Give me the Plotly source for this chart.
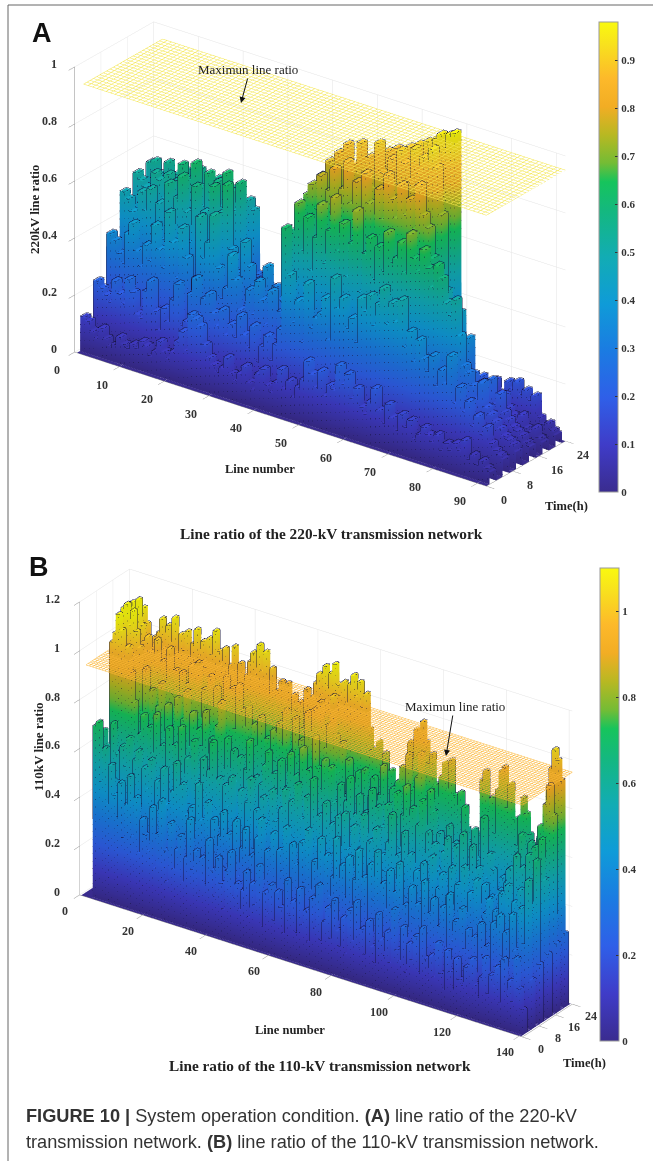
import plotly.graph_objects as go

W, H = 653, 1161
HOURS = [0, 4, 8, 12, 16, 20]

a_t0 = [12,11,8,6,10,7,5,6,9,7,6,8,7,10,9,6,8,12,9,7,10,14,18,12,25,24,22,16,12,10,8,10,14,9,7,10,13,8,6,12,14,9,7,11,16,10,13,8,12,15,22,18,14,20,12,16,15,24,18,22,14,18,12,10,15,20,13,9,16,12,8,14,10,13,7,9,12,10,8,11,6,9,7,10,8,12,6,8,5,7,5,4]
a_t4 = [22,20,18,16,24,20,17,26,22,15,14,24,28,18,12,20,16,24,30,16,18,28,34,22,28,30,24,20,26,18,22,18,26,20,16,24,12,18,22,14,20,26,62,46,30,38,24,45,30,34,36,42,28,50,40,44,34,38,30,46,42,48,38,46,52,40,48,42,50,34,40,30,38,32,28,34,24,30,26,36,20,26,18,22,14,18,12,15,10,8,7,6]
a_t8 = [36,34,30,27,38,42,33,28,36,31,44,36,30,50,40,28,46,36,22,30,52,38,44,54,36,26,30,42,34,24,20,32,24,36,30,22,34,18,28,24,44,58,68,52,64,46,58,70,50,62,74,56,66,48,60,72,44,58,64,50,62,54,68,58,60,66,56,70,62,58,66,60,54,62,58,50,46,52,40,30,28,24,20,26,18,16,14,12,10,9,8,6]
a_t12 = [48,46,42,38,50,44,52,40,48,36,56,46,52,60,48,38,58,44,50,40,60,44,52,62,40,32,26,44,36,30,24,30,38,26,32,28,22,30,20,26,56,68,72,64,76,60,72,80,66,74,84,70,78,66,82,72,60,78,68,84,76,70,82,72,78,68,84,74,70,60,46,38,50,42,34,44,30,36,24,18,22,18,24,16,20,14,12,10,9,8,6,5]
a_t16 = [52,50,48,44,54,52,46,55,50,54,60,52,56,62,54,48,60,52,58,50,62,56,50,60,30,28,24,28,22,20,18,22,16,24,20,14,18,16,12,20,60,72,66,78,72,82,70,86,76,80,88,78,84,74,90,80,72,86,78,90,86,80,92,84,90,82,94,88,72,28,20,16,22,14,18,12,16,20,14,10,14,10,16,12,10,8,11,7,6,8,5,4]
a_t20 = [53,54,50,48,55,48,52,50,54,46,54,56,48,52,50,55,48,53,47,54,52,50,51,48,26,25,24,23,21,18,12,14,10,16,13,9,11,14,8,10,46,62,58,66,74,70,60,78,68,72,80,72,76,84,78,86,74,82,88,80,90,84,92,88,94,96,92,97,98,18,13,10,12,9,14,11,15,16,12,10,17,15,18,14,16,13,15,8,6,7,5,4]

b_t0 = [0,0,0,70,72,48,62,40,56,44,36,50,28,42,54,30,46,24,38,32,26,44,20,34,48,28,16,40,22,30,36,18,28,44,24,32,14,30,20,38,26,16,32,22,12,28,36,18,24,14,22,30,12,26,18,34,10,24,16,28,14,26,20,10,32,18,24,12,30,16,22,10,28,16,34,12,20,26,14,30,18,12,24,10,28,16,32,14,22,12,26,16,10,30,20,14,24,12,34,18,14,28,10,22,16,26,12,30,18,10,20,12,26,14,8,24,16,10,22,14,12,20,8,24,14,10,18,26,12,20,16,24,10,28,14,20,12,30,18,10]
b_t4 = [0,0,0,66,60,52,70,58,48,62,54,66,44,58,62,40,56,48,60,38,52,34,58,44,30,50,62,36,54,42,28,46,36,56,42,26,50,34,44,30,38,48,26,40,30,46,24,36,44,28,34,22,42,50,26,38,30,46,24,40,32,50,26,44,36,22,46,30,52,28,40,24,50,32,44,28,36,52,22,42,30,46,24,38,50,28,40,22,46,32,52,26,40,30,46,22,38,50,28,34,24,42,30,36,22,46,26,34,40,20,30,38,22,44,26,34,18,40,24,32,20,30,16,36,24,28,18,38,22,42,26,36,20,44,30,24,48,34,60,20]
b_t8 = [0,0,0,100,104,112,106,96,100,90,78,56,66,74,52,70,60,76,48,64,56,72,46,66,58,74,50,62,44,70,54,42,64,50,60,72,46,58,38,56,48,60,36,44,56,40,52,62,34,50,40,56,46,30,60,48,36,54,62,42,58,44,66,52,38,62,48,70,44,56,48,62,36,54,44,58,34,60,46,40,56,38,48,62,34,52,44,58,30,48,42,54,66,38,50,44,60,34,52,42,46,36,50,32,44,54,34,42,48,30,40,52,32,46,28,54,36,44,30,50,34,26,38,44,22,40,32,48,30,52,36,46,28,52,40,30,56,44,66,24]
b_t12 = [0,0,0,108,112,114,106,112,104,98,72,90,68,82,60,76,86,64,78,58,70,82,60,74,86,64,78,56,72,66,80,58,70,62,76,86,60,72,54,68,56,66,48,62,74,52,60,44,58,66,72,48,64,56,70,42,60,74,50,66,62,78,56,70,60,84,72,64,76,58,74,60,52,68,46,62,72,50,58,66,44,60,52,70,48,64,56,42,66,52,60,72,50,64,76,56,68,46,62,72,52,60,40,56,46,38,54,60,36,48,58,42,64,36,50,60,40,52,38,46,30,42,34,26,46,36,50,56,40,62,44,58,36,64,50,68,60,72,56,26]
b_t16 = [0,0,0,110,112,108,114,104,98,100,94,88,100,84,92,86,98,80,90,82,90,76,86,94,80,96,74,86,78,92,80,88,72,84,94,78,90,74,92,82,76,84,64,78,70,82,60,74,66,78,66,82,74,88,62,72,86,68,78,72,90,80,92,84,96,86,78,88,100,84,70,82,62,76,68,56,72,62,74,54,64,72,56,66,78,50,62,70,56,74,80,68,86,72,62,78,88,70,60,74,66,50,58,46,54,62,48,56,44,52,72,58,44,64,52,48,70,46,56,50,40,34,48,38,52,28,44,60,68,50,56,66,50,62,74,58,84,92,80,28]
b_t20 = [0,0,0,104,100,108,102,96,92,98,100,106,94,104,98,108,92,102,96,104,94,100,106,96,102,92,104,98,108,100,92,102,84,96,104,90,98,86,94,100,104,96,108,98,106,90,100,84,92,96,88,96,84,92,86,90,80,96,88,94,100,104,96,108,100,106,110,102,98,104,96,104,108,100,106,96,102,88,80,78,84,72,80,66,74,64,70,58,68,76,88,78,94,84,98,90,82,86,74,70,78,84,74,86,72,64,74,66,60,52,46,54,60,82,86,70,76,62,80,88,90,74,84,70,60,72,80,74,66,62,58,66,62,80,88,96,104,100,92,30]

a_rows = [a_t0, a_t4, a_t8, a_t12, a_t16, a_t20]
b_rows = [b_t0, b_t4, b_t8, b_t12, b_t16, b_t20]
MAX_RATIO = 0.95
BAR_START, BAR_END = 1.0, 3.0   # each sampled hour's bar sits inside its 4-hour slot

PARULA = [[0,"#3a2c8f"],[.1,"#3f3cc8"],[.2,"#2f5fe8"],[.3,"#1b7be2"],[.4,"#0f9bd8"],[.5,"#12acb4"],[.6,"#14b87e"],[.66,"#16c45c"],[.7,"#74bc35"],[.76,"#b8b822"],[.82,"#f2ad24"],[.88,"#fdb92a"],[.95,"#f8e01e"],[1,"#f9f90f"]]
FONT = "Liberation Serif"

A_X_TICKS = list(range(0, 91, 10))
B_X_TICKS = list(range(0, 141, 20))
Y_TICKS = [0, 8, 16, 24]
A_Z_TICKS = [0, .2, .4, .6, .8, 1]
B_Z_TICKS = [0, .2, .4, .6, .8, 1, 1.2]


def stairs(rows, eps=0.02):
    n = len(rows[0])
    xs, ys = [0.5], [0]
    for i in range(n):
        xs += [i + .5 + eps, i + 1.5 - eps]
    xs.append(n + .5)
    zz = [[0.0] * len(xs)]
    for j, r in enumerate(rows):
        line = [0.0]
        for v in r:
            line += [v / 100, v / 100]
        line.append(0.0)
        h = HOURS[j]
        ys += [h + BAR_START - .02, h + BAR_START, h + BAR_END, h + BAR_END + .02]
        zz += [[0.0] * len(xs), line, line, [0.0] * len(xs)]
    ys.append(24)
    zz.append([0.0] * len(xs))
    return xs, ys, zz


def edges(rows):
    ex, ey, ez = [], [], []
    for j, r in enumerate(rows):
        y0, y1 = HOURS[j] + BAR_START - .06, HOURS[j] + BAR_END - .06
        for i, v in enumerate(r):
            if v == 0:
                continue
            z = v / 100
            x0, x1 = i + .54, i + 1.54
            ex += [x0, x1, x1, x0, x0, None]
            ey += [y0, y0, y1, y1, y0, None]
            ez += [z + .003] * 5 + [None]
            for px, py in ((x0, y0), (x1, y0), (x1, y1)):
                ex += [px, px, None]
                ey += [py, py, None]
                ez += [0, z, None]
    return ex, ey, ez


def mesh(x0, x1, level):
    ex, ey, ez = [], [], []
    for x in range(x0, x1 + 1):
        ex += [x, x, None]; ey += [0, 24, None]; ez += [level, level, None]
    for y in range(0, 25):
        ex += [x0, x1, None]; ey += [y, y, None]; ez += [level, level, None]
    return ex, ey, ez


fig = go.Figure()


def panel(rows, scene, cmax, cb_ticks, cb_box, mesh_x, mesh_color):
    xs, ys, zz = stairs(rows)
    fig.add_trace(go.Surface(
        x=xs, y=ys, z=zz, scene=scene, colorscale=PARULA, cmin=0, cmax=cmax, hoverinfo="skip",
        lighting=dict(ambient=.9, diffuse=.18, specular=0, roughness=1, fresnel=0),
        colorbar=dict(x=cb_box[0] / W, xanchor="left", y=1 - cb_box[3] / H, yanchor="bottom",
                      len=(cb_box[3] - cb_box[2]) / H, lenmode="fraction", thickness=cb_box[1] - cb_box[0],
                      thicknessmode="pixels", tickvals=cb_ticks, ticks="inside", ticklen=3,
                      tickcolor="#333", outlinecolor="#999", outlinewidth=1, xpad=0, ypad=0,
                      tickfont=dict(family=FONT, size=11, color="#333", weight=700)),
    ))
    ex, ey, ez = edges(rows)
    fig.add_trace(go.Scatter3d(x=ex, y=ey, z=ez, scene=scene, mode="lines", hoverinfo="skip",
                               line=dict(color="#14123a", width=1), opacity=.9, showlegend=False))
    mx, my, mz = mesh(mesh_x[0], mesh_x[1], MAX_RATIO)
    fig.add_trace(go.Scatter3d(x=mx, y=my, z=mz, scene=scene, mode="lines", hoverinfo="skip",
                               line=dict(color=mesh_color, width=1), showlegend=False))


panel(a_rows, "scene", .98, [0, .1, .2, .3, .4, .5, .6, .7, .8, .9], (599, 618, 22, 492), (2, 92), "#f4e54a")
panel(b_rows, "scene2", 1.1, [0, .2, .4, .6, .8, 1], (600, 619, 568, 1041), (2, 141), "#fbb533")


def axis(rng, ticks):
    return dict(range=rng, tickvals=ticks, showbackground=False, gridcolor="#e4e4e4", gridwidth=1,
                showline=True, linecolor="#8a8a8a", linewidth=1, zeroline=False, ticks="outside",
                ticklen=10, tickcolor="#8a8a8a", showspikes=False, title=dict(text=""), showticklabels=False)


def tick_notes(x_ticks, z_ticks, xmax, xshift, zshift, yshift_):
    notes = []
    tf = dict(family=FONT, size=12, color="#333")

    def add(x, y, z, label, dx, dy, anchor="center"):
        notes.append(dict(x=x, y=y, z=z, text=f"<b>{label}</b>", showarrow=False, xshift=dx, yshift=dy,
                          xanchor=anchor, yanchor="middle", font=tf))

    for v in x_ticks:
        add(v, 0, 0, v, *xshift)
    for v in Y_TICKS:
        add(xmax, v, 0, v, *yshift_)
    for v in z_ticks:
        add(0, 0, v, f"{v:g}", *zshift, "right")
    return notes


def scene(cx, cy, hw, hh, xr, xt, zr, zt, ar, eye, notes):
    return dict(domain=dict(x=[(cx - hw) / W, (cx + hw) / W], y=[1 - (cy + hh) / H, 1 - (cy - hh) / H]),
                xaxis=axis(xr, xt), yaxis=axis([0, 24], Y_TICKS), zaxis=axis(zr, zt),
                aspectmode="manual", aspectratio=ar, annotations=notes,
                camera=dict(projection=dict(type="orthographic"), eye=eye, up=dict(x=0, y=0, z=1),
                            center=dict(x=0, y=0, z=0)))


DA, DB = 1.2, 1.2
SA, SB = 1.264, 1.32
fig.update_layout(
    width=W, height=H, margin=dict(l=0, r=0, t=0, b=0), paper_bgcolor="white", showlegend=False,
    scene=scene(319.5, 254, 319, 250, [0, 92], A_X_TICKS, [0, 1], A_Z_TICKS,
                dict(x=1.633 * SA, y=.415 * SA, z=SA), dict(x=.544 * DA, y=-.72 * DA, z=.431 * DA),
                tick_notes(A_X_TICKS, A_Z_TICKS, 92, (-17, -18), (-15, 3), (18, -14))),
    scene2=scene(325.5, 803, 325, 250, [0, 141], B_X_TICKS, [0, 1.2], B_Z_TICKS,
                 dict(x=1.636 * SB, y=.264 * SB, z=SB), dict(x=.508 * DB, y=-.728 * DB, z=.46 * DB),
                 tick_notes(B_X_TICKS, B_Z_TICKS, 141, (-14, -16), (-17, 3), (19, -12))),
)


def txt(x, y, s, size=13, bold=True, family=FONT, angle=0, anchor="center", color="#222"):
    fig.add_annotation(xref="paper", yref="paper", x=x / W, y=1 - y / H, text=f"<b>{s}</b>" if bold else s,
                       showarrow=False, textangle=angle, xanchor=anchor, yanchor="middle",
                       font=dict(family=family, size=size, color=color))


def arrow(x0, y0, x1, y1):
    fig.add_annotation(xref="paper", yref="paper", x=x1 / W, y=1 - y1 / H, ax=x0 - x1, ay=y0 - y1,
                       axref="pixel", ayref="pixel", text="", showarrow=True, arrowhead=2, arrowsize=1.2,
                       arrowwidth=1, arrowcolor="#111")


txt(42, 33, "A", 27, True, "Liberation Sans", color="#111")
txt(39, 567, "B", 27, True, "Liberation Sans", color="#111")
txt(248, 70, "Maximun line ratio", 13, False)
arrow(248, 77, 241, 103)
txt(455, 706, "Maximun line ratio", 13, False)
arrow(453, 714, 446, 756)
txt(35, 210, "220kV line ratio", 13, angle=-90)
txt(38, 747, "110kV line ratio", 13, angle=-90)
txt(260, 469, "Line number", 12.5)
txt(290, 1030, "Line number", 12.5)
txt(566, 506, "Time(h)", 12.5)
txt(584, 1063, "Time(h)", 12.5)
txt(331, 533, "Line ratio of the 220-kV transmission network", 15.3)
txt(320, 1065, "Line ratio of the 110-kV transmission network", 15.3)
fig.add_annotation(xref="paper", yref="paper", x=24 / W, y=1 - 1116 / H, xanchor="left", yanchor="middle", showarrow=False,
                   text="<b>FIGURE 10 |</b> System operation condition. <b>(A)</b> line ratio of the 220-kV",
                   font=dict(family="Liberation Sans", size=18.2, color="#333"))
fig.add_annotation(xref="paper", yref="paper", x=24 / W, y=1 - 1142 / H, xanchor="left", yanchor="middle", showarrow=False,
                   text="transmission network. <b>(B)</b> line ratio of the 110-kV transmission network.",
                   font=dict(family="Liberation Sans", size=18.2, color="#333"))
for x0, y0, x1, y1 in ((8, 5, 8, H), (8, 5, W, 5)):
    fig.add_shape(type="line", xref="paper", yref="paper", x0=x0 / W, y0=1 - y0 / H, x1=x1 / W, y1=1 - y1 / H,
                  line=dict(color="#666", width=1))

fig.write_html("out.html", config={"displayModeBar": False},
               post_script="document.body.style.margin='0';document.documentElement.style.overflow='hidden';")
